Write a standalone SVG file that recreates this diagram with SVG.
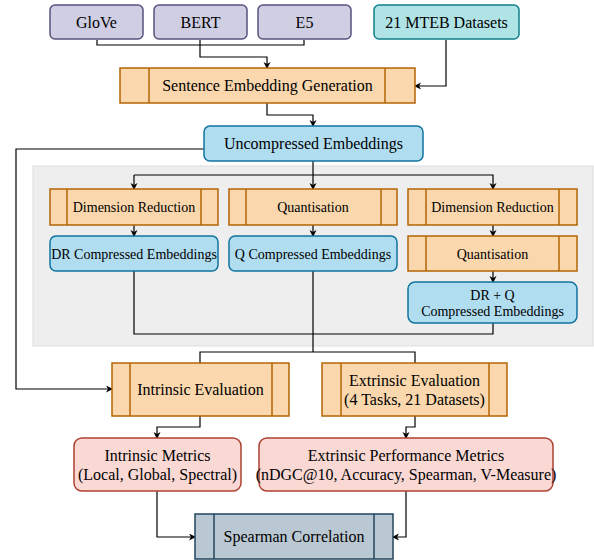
<svg xmlns="http://www.w3.org/2000/svg" width="594" height="560" viewBox="0 0 594 560">
<style>
text{fill:#000;text-anchor:middle}
.f16{font-size:16px}.f14{font-size:14px}
.pur{fill:#d0cee2;stroke:#56517e;stroke-width:1.5}
.teal{fill:#b0e3e6;stroke:#0e8088;stroke-width:1.5}
.org{fill:#fad7ac;stroke:#b46504;stroke-width:1.5}
.blu{fill:#b1ddf0;stroke:#10739e;stroke-width:1.5}
.red{fill:#fad9d5;stroke:#ae4132;stroke-width:1.5}
.gb{fill:#bac8d3;stroke:#23445d;stroke-width:1.5}
.sub{fill:none;stroke-width:1.5}
.c{fill:none;stroke:#000;stroke-width:1.2}
.ca{fill:none;stroke:#000;stroke-width:1.2;marker-end:url(#ah)}
</style>
<defs>
<marker id="ah" markerWidth="8" markerHeight="8" refX="6" refY="3.5" orient="auto" markerUnits="userSpaceOnUse">
<path d="M0,0 L7,3.5 L0,7 L2,3.5 Z" fill="#000"/>
</marker>
</defs>
<rect id="panel" x="33" y="166" width="560" height="180" fill="#eeeeee" stroke="#dddddd" stroke-width="1"/>
<g id="connectors">
<path class="c" d="M97,40 V45 H304 V40"/>
<path class="ca" d="M200,40 V57 H267 V68"/>
<path class="ca" d="M446,40 V86 H415"/>
<path class="ca" d="M267,103 V115 H313 V126"/>
<path class="ca" d="M204,149 H16 V389 H112"/>
<path class="c" d="M313,161 V175"/>
<path class="ca" d="M134,175 V189"/>
<path class="ca" d="M313,175 V189"/>
<path class="ca" d="M134,175 H493 V189"/>
<path class="ca" d="M134,225 V236"/>
<path class="ca" d="M313,225 V236"/>
<path class="ca" d="M493,225 V236"/>
<path class="ca" d="M493,271 V282" stroke="#444"/>
<path class="c" d="M134,271 V334 H493 V323"/>
<path class="c" d="M313,271 V352"/>
<path class="c" d="M200,363 V352 H415 V363"/>
<path class="ca" d="M200,416 V427 H157 V438"/>
<path class="ca" d="M415,416 V427 H406 V438"/>
<path class="ca" d="M157,491 V537 H195"/>
<path class="ca" d="M406,491 V537 H393"/>
</g>
<g font-family="Liberation Serif">
<g id="glove"><rect class="pur" x="50" y="5" width="93" height="34" rx="5"/><text class="f16" x="96.5" y="28">GloVe</text></g>
<g id="bert"><rect class="pur" x="154" y="5" width="93" height="34" rx="5"/><text class="f16" x="200.5" y="28">BERT</text></g>
<g id="e5"><rect class="pur" x="258" y="5" width="93" height="34" rx="5"/><text class="f16" x="304.5" y="28">E5</text></g>
<g id="mteb"><rect class="teal" x="374" y="5" width="145" height="34" rx="5"/><text class="f16" x="446.5" y="28">21 MTEB Datasets</text></g>
<g id="seg"><rect class="org" x="120" y="68" width="295" height="35"/><path class="sub" stroke="#b46504" d="M149,68 V103 M385,68 V103"/><text class="f16" x="267.5" y="91">Sentence Embedding Generation</text></g>
<g id="uncomp"><rect class="blu" x="204" y="126" width="219" height="35" rx="6"/><text class="f16" x="313.5" y="149">Uncompressed Embeddings</text></g>
<g id="dr1"><rect class="org" x="50" y="189" width="168" height="36"/><path class="sub" stroke="#b46504" d="M67,189 V225 M201,189 V225"/><text class="f14" x="134" y="212">Dimension Reduction</text></g>
<g id="q1"><rect class="org" x="229" y="189" width="168" height="36"/><path class="sub" stroke="#b46504" d="M246,189 V225 M381,189 V225"/><text class="f14" x="313" y="212">Quantisation</text></g>
<g id="dr2"><rect class="org" x="408" y="189" width="169" height="36"/><path class="sub" stroke="#b46504" d="M426,189 V225 M559,189 V225"/><text class="f14" x="492.5" y="212">Dimension Reduction</text></g>
<g id="drc"><rect class="blu" x="50" y="236" width="168" height="35" rx="6"/><text class="f14" x="134" y="258.5">DR Compressed Embeddings</text></g>
<g id="qc"><rect class="blu" x="229" y="236" width="168" height="35" rx="6"/><text class="f14" x="313" y="258.5">Q Compressed Embeddings</text></g>
<g id="q2"><rect class="org" x="408" y="236" width="169" height="35"/><path class="sub" stroke="#b46504" d="M426,236 V271 M559,236 V271"/><text class="f14" x="492.5" y="258.5">Quantisation</text></g>
<g id="drqc"><rect class="blu" x="408" y="282" width="169" height="41" rx="7"/><text class="f14" x="492.5" y="299.5">DR + Q</text><text class="f14" x="492.5" y="316">Compressed Embeddings</text></g>
<g id="intr"><rect class="org" x="112" y="363" width="177" height="53"/><path class="sub" stroke="#b46504" d="M130,363 V416 M272,363 V416"/><text class="f16" x="200.5" y="395">Intrinsic Evaluation</text></g>
<g id="extr"><rect class="org" x="322" y="363" width="185" height="53"/><path class="sub" stroke="#b46504" d="M341,363 V416 M489,363 V416"/><text class="f16" x="414.5" y="385.5">Extrinsic Evaluation</text><text class="f16" x="414.5" y="404.5">(4 Tasks, 21 Datasets)</text></g>
<g id="intm"><rect class="red" x="74" y="438" width="167" height="53" rx="8"/><text class="f16" x="157.5" y="461">Intrinsic Metrics</text><text class="f16" x="157.5" y="480">(Local, Global, Spectral)</text></g>
<g id="extm"><rect class="red" x="259" y="438" width="294" height="53" rx="8"/><text class="f16" x="406" y="461">Extrinsic Performance Metrics</text><text class="f16" x="406" y="480">(nDGC@10, Accuracy, Spearman, V-Measure)</text></g>
<g id="spear"><rect class="gb" x="195" y="514" width="198" height="45"/><path class="sub" stroke="#23445d" d="M214,514 V559 M374,514 V559"/><text class="f16" x="294" y="542">Spearman Correlation</text></g>
</g>
</svg>
